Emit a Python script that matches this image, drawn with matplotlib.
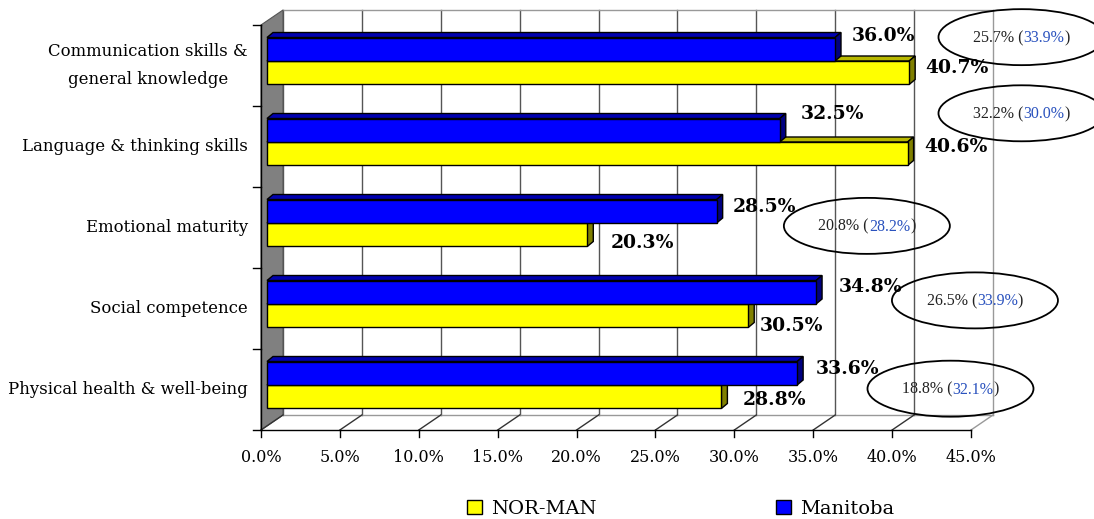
import numpy as np
import matplotlib.pyplot as plt
from matplotlib.patches import Polygon, Ellipse, Patch
from matplotlib.lines import Line2D
from matplotlib.transforms import IdentityTransform, ScaledTranslation

plt.rcParams['font.family'] = ['DejaVu Serif']

# data, bottom category first
categories = ["Physical health & well-being", "Social competence",
              "Emotional maturity", "Language & thinking skills",
              "Communication skills &\ngeneral knowledge"]
nor_man = [28.8, 30.5, 20.3, 40.6, 40.7]
manitoba = [33.6, 34.8, 28.5, 32.5, 36.0]
circle_local = ["18.8%", "26.5%", "20.8%", "32.2%", "25.7%"]
circle_prov = ["32.1%", "33.9%", "28.2%", "30.0%", "33.9%"]
xticks = np.arange(0, 50, 5)

# layout only (where the ovals sit, in axis units) and label nudges in pixels
note_x = [43.7, 45.25, 38.4, 48.2, 48.2]
note_y = [0.51, 1.6, 2.52, 3.91, 4.85]
blue_nudge = [(19, 4), (23, 5), (16, 4), (21, 16), (17, 13)]
yellow_nudge = [(21, -3), (12, -10), (23, -8), (17, 7), (16, 5)]

W, H = 1094, 519
fig = plt.figure(figsize=(W / 100, H / 100), dpi=100)
ax = fig.add_axes([261 / W, (H - 430) / H, 710 / W, 405 / H])
ax.set_xlim(0, 45)
ax.set_ylim(0, 5)
ax.axis('off')

WALL = (22, 15)      # depth of the back wall, px
SHIFT = (6, 4.5)     # bars sit a bit behind the front plane
DEPTH = (6, 5)       # depth of each bar
BAR_H = 0.29
ID = IdentityTransform()


def shifted(dx, dy):
    return ax.transData + ScaledTranslation(dx / fig.dpi, dy / fig.dpi, fig.dpi_scale_trans)


def P(x, y, dx=0, dy=0):
    X, Y = ax.transData.transform((x, y))
    return (X + dx, Y + dy)


def seg(p, q, **kw):
    ax.add_line(Line2D([p[0], q[0]], [p[1], q[1]], transform=ID, clip_on=False, **kw))


back = shifted(*WALL)
bars_tr = shifted(*SHIFT)

# back wall
for x in xticks:
    c = '#999999' if x == 45 else '#555555'
    ax.plot([x, x], [0, 5], transform=back, color=c, lw=1, clip_on=False, zorder=1)
ax.plot([0, 45], [5, 5], transform=back, color='#999999', lw=1, clip_on=False, zorder=1)
ax.plot([0, 45], [0, 0], transform=back, color='#999999', lw=1, clip_on=False, zorder=1)

# grey side wall
ax.add_patch(Polygon([P(0, 0), P(0, 5), P(0, 5, *WALL), P(0, 0, *WALL)],
                     transform=ID, facecolor='#808080', edgecolor='#555555',
                     lw=0.8, clip_on=False, zorder=1))

# floor diagonals and front axes
for x in xticks:
    seg(P(x, 0), P(x, 0, *WALL), color='#333333' if x < 45 else '#999999', lw=1, zorder=1)
    seg(P(x, 0), P(x, 0, 0, -7), color='black', lw=1, zorder=2)
    ax.annotate(f"{x:.1f}%", xy=(x, 0), xytext=(0, -28), textcoords='offset pixels',
                ha='center', va='center', fontsize=11.5, annotation_clip=False)
seg(P(0, 0), P(45, 0), color='black', lw=1, zorder=2)
seg(P(0, 0), P(0, 5), color='black', lw=1, zorder=2)
for k in range(6):
    seg(P(0, k), P(0, k, -8, 0), color='black', lw=1, zorder=2)

y = np.arange(len(categories)) + 0.5


def faces(vals, bottoms, front, top, side, z):
    S = np.array(SHIFT)
    D = S + np.array(DEPTH)
    for v, y0 in zip(vals, bottoms):
        y1 = y0 + BAR_H
        ax.add_patch(Polygon([P(0, y1, *S), P(v, y1, *S), P(v, y1, *D), P(0, y1, *D)],
                             transform=ID, facecolor=top, edgecolor='black', lw=1,
                             clip_on=False, zorder=z))
        ax.add_patch(Polygon([P(v, y0, *S), P(v, y1, *S), P(v, y1, *D), P(v, y0, *D)],
                             transform=ID, facecolor=side, edgecolor='black', lw=1,
                             clip_on=False, zorder=z))
    ax.barh(bottoms, vals, height=BAR_H, align='edge', transform=bars_tr,
            color=front, edgecolor='black', lw=1, clip_on=False, zorder=z + 0.1)


faces(nor_man, y - BAR_H, '#FFFF00', '#B8B800', '#808000', 3)
faces(manitoba, y, '#0000FF', '#0000B0', '#000080', 4)

# value labels
for i in range(len(categories)):
    dx, dy = blue_nudge[i]
    ax.annotate(f"{manitoba[i]:.1f}%", xy=(manitoba[i], y[i] + BAR_H / 2),
                xytext=(SHIFT[0] + dx, SHIFT[1] + dy), textcoords='offset pixels',
                ha='left', va='center', fontsize=13.5, fontweight='bold',
                annotation_clip=False, zorder=6)
    dx, dy = yellow_nudge[i]
    ax.annotate(f"{nor_man[i]:.1f}%", xy=(nor_man[i], y[i] - BAR_H / 2),
                xytext=(SHIFT[0] + dx, SHIFT[1] + dy), textcoords='offset pixels',
                ha='left', va='center', fontsize=13.5, fontweight='bold',
                annotation_clip=False, zorder=6)

# category labels
for i, c in enumerate(categories):
    ax.annotate(c, xy=(0, y[i]), xytext=(-13, 0), textcoords='offset pixels',
                ha='right', va='center', multialignment='center', linespacing=1.9,
                fontsize=11.9, annotation_clip=False)

# ovals with local (provincial) figures
note_font = dict(family=['Liberation Serif'], fontsize=11.5)
renderer = fig.canvas.get_renderer()
for i in range(len(categories)):
    cx, cy = P(note_x[i], note_y[i])
    ax.add_patch(Ellipse((cx, cy), 166, 56, transform=ID, fill=False,
                         edgecolor='black', lw=1.3, clip_on=False, zorder=7))
    parts = [(circle_local[i] + " (", '#222222'), (circle_prov[i], '#2a52be'), (")", '#222222')]
    widths = []
    for s, _ in parts:
        t = fig.text(0, 0, s, **note_font)
        widths.append(t.get_window_extent(renderer).width)
        t.remove()
    x0 = -sum(widths) / 2
    for (s, col), w in zip(parts, widths):
        ax.annotate(s, xy=(note_x[i], note_y[i]), xytext=(x0, -5), textcoords='offset pixels',
                    ha='left', va='baseline', color=col, annotation_clip=False,
                    zorder=8, **note_font)
        x0 += w

# legend
for name, col, xl in [("NOR-MAN", '#FFFF00', 467), ("Manitoba", '#0000FF', 776)]:
    fig.legend([Patch(facecolor=col, edgecolor='black')], [name], loc='center left',
               bbox_to_anchor=(xl / W, (H - 509) / H), frameon=False, fontsize=14,
               handlelength=0.75, handleheight=0.75, handletextpad=0.5,
               borderpad=0, borderaxespad=0)

fig.savefig("out.png", dpi=100)
